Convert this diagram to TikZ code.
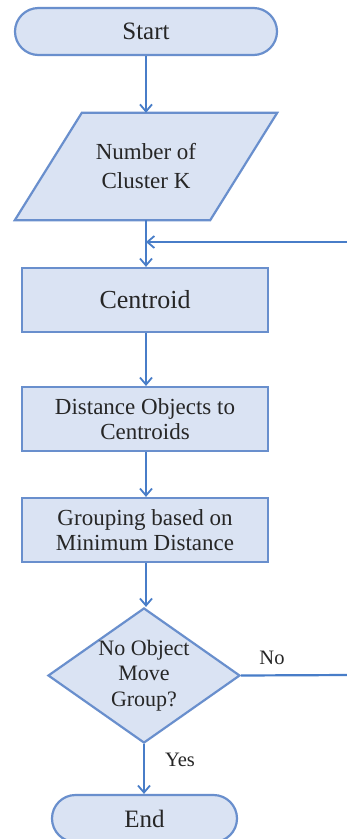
\documentclass[tikz,border=0pt]{standalone}
\usepackage{fontspec}
\setmainfont{Liberation Serif}
\usetikzlibrary{shapes.geometric,arrows.meta,backgrounds}
\definecolor{boxfill}{RGB}{218,227,243}
\definecolor{boxline}{RGB}{105,143,205}
\definecolor{arrowc}{RGB}{72,125,200}
\begin{document}
\begin{tikzpicture}[x=1pt,y={(0pt,-1pt)},
  box/.style={draw=boxline,fill=boxfill,line width=2.2pt,align=center,text=black!85},
  procbox/.style={box,rectangle,minimum width=246pt,minimum height=64pt,inner sep=0pt},
  term/.style={box,rectangle,rounded corners=23.5pt,minimum height=47pt,inner sep=0pt,font=\fontsize{25}{28}\selectfont},
  flow/.style={draw=arrowc,line width=2.2pt,-{Straight Barb[length=7pt,width=12pt,line width=1.8pt]}},
  plain/.style={draw=arrowc,line width=2.2pt},
  lbl/.style={font=\fontsize{20.5}{22}\selectfont,text=black!85}
]
\useasboundingbox (0,0) rectangle (346,839);

\node[term,minimum width=262pt] (start) at (146,31.5) {Start};

\node[rectangle,minimum width=195pt,minimum height=107pt,inner sep=0pt,align=center,
  font=\fontsize{23}{29}\selectfont,text=black!85] (num) at (146,166.5) {Number of\\Cluster K};
\begin{pgfonlayer}{background}
\fill[white] (0,0) rectangle (346,839);
\path[box] ([xshift=33.5pt]num.north west) -- ([xshift=33.5pt]num.north east)
  -- ([xshift=-33.5pt]num.south east) -- ([xshift=-33.5pt]num.south west) -- cycle;
\end{pgfonlayer}

\node[procbox,font=\fontsize{26}{28}\selectfont] (cent) at (145,300) {Centroid};
\node[procbox,font=\fontsize{23}{25}\selectfont] (dist) at (145,419) {Distance Objects to\\Centroids};
\node[procbox,font=\fontsize{23}{25}\selectfont] (grp) at (145,530) {Grouping based on\\Minimum Distance};
\node[box,diamond,minimum width=192pt,minimum height=135pt,aspect=1.42,inner sep=0pt,
  font=\fontsize{22}{25.5}\selectfont] (dec) at (144,675.5) {No Object\\Move\\Group?};
\node[term,minimum width=185pt] (end) at (144.5,818.5) {End};

\coordinate (merge) at (146,242);
\coordinate (rb) at (349,675);
\coordinate (rt) at (349,242);

\draw[flow] (start.south) -- (num.north -| start.south);
\draw[flow] (num.south -| merge) -- (cent.north -| merge);
\draw[plain] (dec.east) -- (rb) -- (rt);
\draw[flow] (rt) -- (merge);
\draw[flow] (cent.south -| merge) -- (dist.north -| merge);
\draw[flow] (dist.south -| merge) -- (grp.north -| merge);
\draw[flow] (grp.south -| merge) -- (dec.north -| merge);
\draw[flow] (dec.south) -- (end.north -| dec.south);

\node[lbl] (no) at (272,658) {No};
\node[lbl] (yes) at (180,760) {Yes};
\end{tikzpicture}
\end{document}
